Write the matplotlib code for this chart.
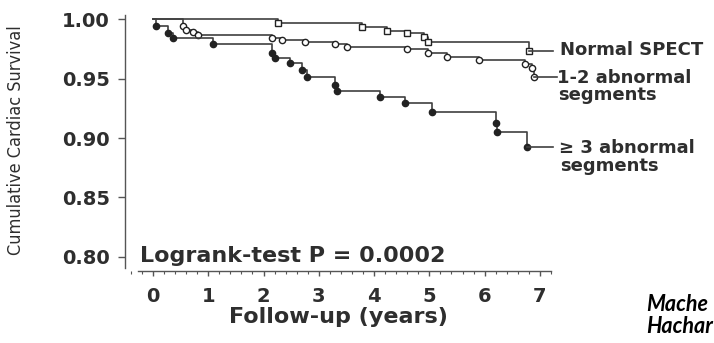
"""
plot.py
-------
Kaplan-Meier style cardiac survival curves by SPECT result.

Usage:
    python3 plot.py
"""

import matplotlib
matplotlib.use("Agg")
import matplotlib.pyplot as plt
from matplotlib.ticker import MultipleLocator

# ---------------------------------------------------------------------------
# Data
# ---------------------------------------------------------------------------
normal_t = [0.0, 2.27, 3.78, 4.23, 4.59, 4.90, 4.97, 6.80]
normal_s = [1.000, 0.9966, 0.9933, 0.9899, 0.9882, 0.9849, 0.9807, 0.9730]

onetwo_t = [0.0, 0.54, 0.59, 0.72, 0.81, 2.16, 2.34, 2.75, 3.29, 3.51,
            4.59, 4.97, 5.32, 5.90, 6.73, 6.86, 6.90]
onetwo_s = [1.000, 0.9941, 0.9908, 0.9890, 0.9866, 0.9840, 0.9824, 0.9807,
            0.9790, 0.9765, 0.9748, 0.9714, 0.9681, 0.9655, 0.9622, 0.9588,
            0.9513]

ge3_t = [0.0, 0.05, 0.27, 0.36, 1.08, 2.16, 2.21, 2.48, 2.70, 2.79, 3.29,
         3.33, 4.10, 4.55, 5.04, 6.20, 6.22, 6.76]
ge3_s = [1.000, 0.9941, 0.9882, 0.9840, 0.9790, 0.9714, 0.9672, 0.9630,
         0.9571, 0.9513, 0.9445, 0.9395, 0.9345, 0.9294, 0.9218, 0.9126,
         0.9050, 0.8924]

y_ticks = [0.80, 0.85, 0.90, 0.95, 1.00]
x_ticks = [0, 1, 2, 3, 4, 5, 6, 7]

LINE_COLOR = "#404040"
TEXT_COLOR = "#2e2e2e"


def draw_curve(ax, t, s, marker, face, leader_end):
    """Step curve with event markers and a leader line to its label."""
    ax.step(t, s, where="post", color=LINE_COLOR, lw=1.2, clip_on=False)
    ax.plot(t[1:], s[1:], ls="none", marker=marker, ms=4.5, mfc=face,
            mec="#222222", mew=1.0, clip_on=False)
    ax.plot([t[-1], leader_end], [s[-1], s[-1]], color=LINE_COLOR, lw=1.2,
            clip_on=False)


def main() -> None:
    fig = plt.figure(figsize=(7.14, 3.43), dpi=100)
    ax = fig.add_axes([0.1751, 0.2099, 0.5966, 0.7464])

    ax.set_xlim(-0.506, 7.2)
    ax.set_ylim(0.7882, 1.0034)

    draw_curve(ax, normal_t, normal_s, "s", "white", 7.23)
    draw_curve(ax, onetwo_t, onetwo_s, "o", "white", 7.31)
    draw_curve(ax, ge3_t, ge3_s, "o", "#222222", 7.23)

    # detached axes like the original print
    for side in ["top", "right"]:
        ax.spines[side].set_visible(False)
    ax.spines["left"].set_bounds(0.7908, 1.0034)
    ax.spines["bottom"].set_bounds(-0.27, 7.2)
    for side in ["left", "bottom"]:
        ax.spines[side].set_color("#555555")
        ax.spines[side].set_linewidth(1.0)

    ax.set_yticks(y_ticks)
    ax.set_yticklabels([f"{v:.2f}" for v in y_ticks])
    ax.set_xticks(x_ticks)
    ax.set_xticklabels([str(v) for v in x_ticks])
    ax.xaxis.set_minor_locator(MultipleLocator(0.2))

    ax.tick_params(axis="y", length=5, width=1.0, color="#555555", pad=6,
                   labelsize=14, labelcolor=TEXT_COLOR)
    ax.tick_params(axis="x", which="major", length=3.5, width=1.0,
                   color="#555555", pad=8, labelsize=14, labelcolor=TEXT_COLOR)
    ax.tick_params(axis="x", which="minor", length=2.5, width=0.8,
                   color="#555555")
    for lab in ax.get_xticklabels() + ax.get_yticklabels():
        lab.set_fontweight("bold")

    ax.set_xlabel("Follow-up (years)", fontsize=16, fontweight="bold",
                  color=TEXT_COLOR, labelpad=1)
    ax.set_ylabel("Cumulative Cardiac Survival", fontsize=13,
                  family="DejaVu Sans", stretch="condensed",
                  color=TEXT_COLOR)
    ax.yaxis.set_label_coords(-0.235, 0.512)

    ax.text(-0.23, 0.7958, "Logrank-test P = 0.0002", fontsize=16,
            fontweight="bold", color=TEXT_COLOR, va="baseline", ha="left")

    # curve labels on the right
    label_kw = dict(fontsize=13, fontweight="bold", color=TEXT_COLOR,
                    va="baseline", ha="left", clip_on=False)
    ax.text(7.36, 0.9697, "Normal SPECT", **label_kw)
    ax.text(7.30, 0.9462, "1-2 abnormal", **label_kw)
    ax.text(7.32, 0.9319, "segments", **label_kw)
    ax.text(7.35, 0.8874, "\u2265 3 abnormal", **label_kw)
    ax.text(7.37, 0.8723, "segments", **label_kw)

    # citation fragment at the bottom right edge
    cite_kw = dict(fontsize=15.5, fontweight="bold", style="italic",
                   family=["Lato", "DejaVu Sans"], color="black",
                   ha="left", va="baseline")
    fig.text(646 / 714, 1 - 311 / 343, "Mache", **cite_kw)
    fig.text(646 / 714, 1 - 333 / 343, "Hachar", **cite_kw)

    fig.savefig("out.png", dpi=100, facecolor="white")
    plt.close(fig)


if __name__ == "__main__":
    main()
